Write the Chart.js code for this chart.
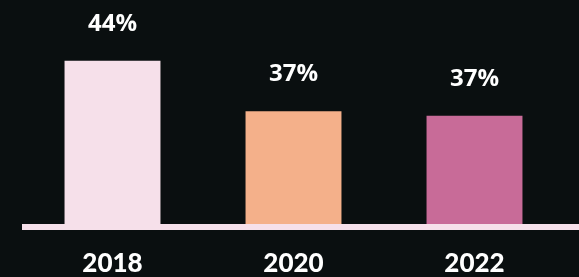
<!DOCTYPE html>
<html>
<head>
<meta charset="utf-8">
<script src="https://cdn.jsdelivr.net/npm/chart.js@4/dist/chart.umd.min.js"></script>
<style>
  html, body { margin: 0; padding: 0; background: #0a0f10; }
  #wrap { width: 579px; height: 277px; position: relative; }
</style>
</head>
<body>
<div id="wrap"><canvas id="chart"></canvas></div>
<script>
// values; labels show them rounded
const years = ['2018', '2020', '2022'];
const shares = [44, 37.2, 36.6];
const barColors = ['#f6e0ea', '#f4b08a', '#c86b98'];

// light pink floor line under the bars, running to the right edge
const floorLine = {
    id: 'floorLine',
    beforeDatasetsDraw(chart) {
        const { ctx, chartArea } = chart;
        ctx.save();
        ctx.fillStyle = '#f6e0ea';
        ctx.fillRect(chartArea.left, chartArea.bottom, chart.width - chartArea.left, 6);
        ctx.restore();
    }
};

// percentage text above each bar
const valueLabels = {
    id: 'valueLabels',
    afterDatasetsDraw(chart) {
        const { ctx } = chart;
        const meta = chart.getDatasetMeta(0);
        ctx.save();
        ctx.fillStyle = '#ffffff';
        ctx.font = 'bold 24px "Open Sans"';
        ctx.textAlign = 'center';
        ctx.textBaseline = 'middle';
        meta.data.forEach((bar, i) => {
            ctx.fillText(Math.round(shares[i]) + '%', bar.x, bar.y - 37);
        });
        ctx.restore();
    }
};

new Chart(document.getElementById('chart'), {
    type: 'bar',
    data: {
        labels: years,
        datasets: [{
            data: shares,
            backgroundColor: barColors,
            borderWidth: 0,
            barPercentage: 0.53,
            categoryPercentage: 1
        }]
    },
    options: {
        responsive: true,
        maintainAspectRatio: false,
        animation: false,
        layout: { padding: { left: 22, right: 14, top: 46, bottom: 0 } },
        plugins: {
            legend: { display: false },
            tooltip: { enabled: false }
        },
        scales: {
            x: {
                grid: { display: false },
                border: { display: false },
                afterFit(scale) { scale.height = 53; },
                ticks: {
                    color: '#ffffff',
                    padding: 16,
                    font: { family: 'Lato', weight: 900, size: 26 }
                }
            },
            y: {
                display: false,
                min: 22,
                max: 46
            }
        }
    },
    plugins: [floorLine, valueLabels]
});
</script>
</body>
</html>
